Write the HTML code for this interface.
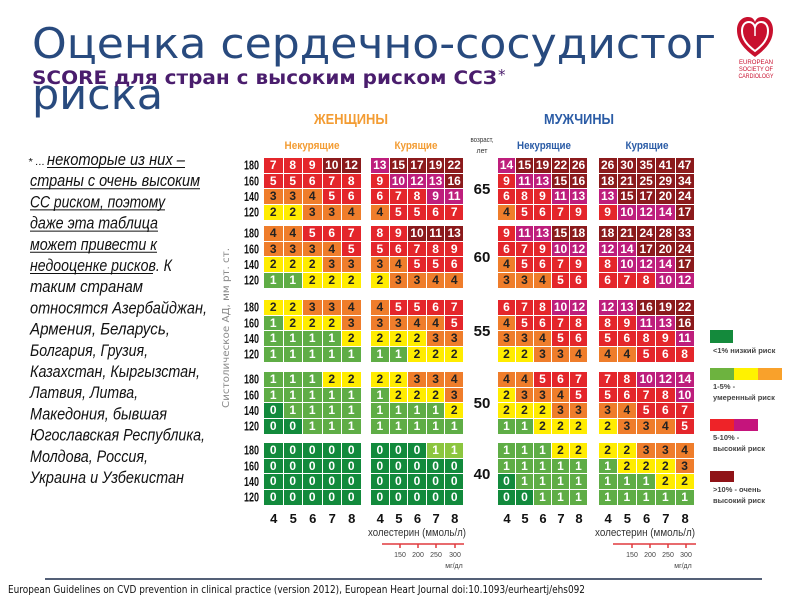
<!DOCTYPE html>
<html><head><meta charset="utf-8">
<style>
body{margin:0;background:#fff}
#w{position:relative;width:800px;height:600px;overflow:hidden;background:#fff}
svg{position:absolute;left:0;top:0}
.b{position:absolute;display:grid;grid-template-rows:repeat(4,14.7px);gap:1px}
.b i{font-style:normal;font-weight:bold;font-size:12px;font-family:"Liberation Sans Narrow","Liberation Sans",sans-serif;color:#fff;text-align:center;line-height:15px;display:block;overflow:hidden}
.b1{grid-template-columns:repeat(5,18.5px);left:264px}
.b2{grid-template-columns:repeat(5,17.6px);left:371px}
.b3{grid-template-columns:repeat(5,17px);left:498px}
.b4{grid-template-columns:repeat(5,18.25px);left:598.5px}
.t1{top:158px}.t2{top:226px}.t3{top:300px}.t4{top:372px}.t5{top:443px}
.D{background:#128a3c}.G{background:#5fad46}.L{background:#8cc63f}
.Y{background:#ffec00;color:#222!important}.O{background:#ef7d2b;color:#222!important}
.R{background:#e4262b}.M{background:#be1e7c}.K{background:#8b1a1c}
</style></head>
<body><div id="w">
<svg width="800" height="600" viewBox="0 0 800 600" xmlns="http://www.w3.org/2000/svg">
<!-- title -->
<text x="32" y="58" font-family="DejaVu Sans, sans-serif" font-size="42" fill="#284a7e" textLength="684" lengthAdjust="spacingAndGlyphs">Оценка сердечно-сосудистог</text>
<text x="32" y="109" font-family="DejaVu Sans, sans-serif" font-size="42" fill="#284a7e" textLength="131" lengthAdjust="spacingAndGlyphs">риска</text>
<text x="32" y="84" font-family="DejaVu Sans, sans-serif" font-weight="bold" font-size="19" fill="#4a1d6d" textLength="465" lengthAdjust="spacingAndGlyphs">SCORE для стран с высоким риском ССЗ</text>
<text x="498" y="80" font-family="DejaVu Sans, sans-serif" font-size="15" fill="#4a1d6d">*</text>
<!-- logo -->
<path d="M755,57 C744,49 737,41 737,30 C737,22 742,17 748,17 C752,17 754,19 755,22 C756,19 758,17 762,17 C768,17 773,22 773,30 C773,41 766,49 755,57 Z" fill="#c8102e"/>
<path d="M755,51 C747,45 742,39 742,31 C742,25 745,22 749,22 C752,22 754,24 755,27 C756,24 758,22 761,22 C765,22 768,25 768,31 C768,39 763,45 755,51 Z" fill="none" stroke="#fff" stroke-width="2"/>
<path d="M755,27 L755,36" stroke="#fff" stroke-width="1.5"/>
<g font-family="Liberation Sans, sans-serif" font-size="6.5" fill="#c8102e" text-anchor="middle">
<text x="756" y="64" textLength="34" lengthAdjust="spacingAndGlyphs">EUROPEAN</text>
<text x="756" y="71" textLength="34" lengthAdjust="spacingAndGlyphs">SOCIETY OF</text>
<text x="756" y="78" textLength="35" lengthAdjust="spacingAndGlyphs">CARDIOLOGY</text>
</g>
<!-- left paragraph -->
<g font-family="Liberation Sans Narrow, Liberation Sans, sans-serif" font-style="italic" font-size="16.5" fill="#111" lengthAdjust="spacingAndGlyphs">
<text x="28" y="165" font-size="10" textLength="17" lengthAdjust="spacingAndGlyphs">* ...</text>
<text x="47" y="165" textLength="138" lengthAdjust="spacingAndGlyphs">некоторые из них –</text>
<text x="30" y="186.2" textLength="170" lengthAdjust="spacingAndGlyphs">страны с очень высоким</text>
<text x="30" y="207.4" textLength="135" lengthAdjust="spacingAndGlyphs">СС риском, поэтому</text>
<text x="30" y="228.6" textLength="128" lengthAdjust="spacingAndGlyphs">даже эта таблица</text>
<text x="30" y="249.8" textLength="127" lengthAdjust="spacingAndGlyphs">может привести к</text>
<text x="30" y="271" textLength="142" lengthAdjust="spacingAndGlyphs">недооценке рисков. К</text>
<text x="30" y="292.2" textLength="113" lengthAdjust="spacingAndGlyphs">таким странам</text>
<text x="30" y="313.4" textLength="177" lengthAdjust="spacingAndGlyphs">относятся Азербайджан,</text>
<text x="30" y="334.6" textLength="140" lengthAdjust="spacingAndGlyphs">Армения, Беларусь,</text>
<text x="30" y="355.8" textLength="118" lengthAdjust="spacingAndGlyphs">Болгария, Грузия,</text>
<text x="30" y="377" textLength="170" lengthAdjust="spacingAndGlyphs">Казахстан, Кыргызстан,</text>
<text x="30" y="398.2" textLength="108" lengthAdjust="spacingAndGlyphs">Латвия, Литва,</text>
<text x="30" y="419.4" textLength="137" lengthAdjust="spacingAndGlyphs">Македония, бывшая</text>
<text x="30" y="440.6" textLength="175" lengthAdjust="spacingAndGlyphs">Югославская Республика,</text>
<text x="30" y="461.8" textLength="118" lengthAdjust="spacingAndGlyphs">Молдова, Россия,</text>
<text x="30" y="483" textLength="154" lengthAdjust="spacingAndGlyphs">Украина и Узбекистан</text>
</g>
<g stroke="#111" stroke-width="1">
<line x1="47" y1="167.5" x2="185" y2="167.5"/>
<line x1="30" y1="188.7" x2="200" y2="188.7"/>
<line x1="30" y1="209.9" x2="165" y2="209.9"/>
<line x1="30" y1="231.1" x2="158" y2="231.1"/>
<line x1="30" y1="252.3" x2="157" y2="252.3"/>
<line x1="30" y1="273.5" x2="153" y2="273.5"/>
</g>
<!-- headers -->
<g font-family="Liberation Sans Narrow, Liberation Sans, sans-serif" font-weight="bold" text-anchor="middle">
<text x="351" y="124" font-size="15" fill="#f39c33" textLength="74" lengthAdjust="spacingAndGlyphs">ЖЕНЩИНЫ</text>
<text x="579" y="124" font-size="15" fill="#2b5ca6" textLength="70" lengthAdjust="spacingAndGlyphs">МУЖЧИНЫ</text>
<text x="312" y="149" font-size="11" fill="#f39c33" textLength="55" lengthAdjust="spacingAndGlyphs">Некурящие</text>
<text x="416" y="149" font-size="11" fill="#f39c33" textLength="43" lengthAdjust="spacingAndGlyphs">Курящие</text>
<text x="544" y="149" font-size="11" fill="#2b5ca6" textLength="54" lengthAdjust="spacingAndGlyphs">Некурящие</text>
<text x="647" y="149" font-size="11" fill="#2b5ca6" textLength="43" lengthAdjust="spacingAndGlyphs">Курящие</text>
</g>
<g font-family="Liberation Sans Narrow, Liberation Sans, sans-serif" font-size="7" fill="#333" text-anchor="middle">
<text x="482" y="142" textLength="23" lengthAdjust="spacingAndGlyphs">возраст,</text>
<text x="482" y="153">лет</text>
</g>
<!-- SBP labels -->
<g font-family="Liberation Sans Narrow, Liberation Sans, sans-serif" font-weight="bold" font-size="12.5" fill="#111" text-anchor="end">
<text x="259" y="169.6" textLength="15" lengthAdjust="spacingAndGlyphs">180</text>
<text x="259" y="185.3" textLength="15" lengthAdjust="spacingAndGlyphs">160</text>
<text x="259" y="201" textLength="15" lengthAdjust="spacingAndGlyphs">140</text>
<text x="259" y="216.7" textLength="15" lengthAdjust="spacingAndGlyphs">120</text>
<text x="259" y="237.6" textLength="15" lengthAdjust="spacingAndGlyphs">180</text>
<text x="259" y="253.3" textLength="15" lengthAdjust="spacingAndGlyphs">160</text>
<text x="259" y="269" textLength="15" lengthAdjust="spacingAndGlyphs">140</text>
<text x="259" y="284.7" textLength="15" lengthAdjust="spacingAndGlyphs">120</text>
<text x="259" y="311.6" textLength="15" lengthAdjust="spacingAndGlyphs">180</text>
<text x="259" y="327.3" textLength="15" lengthAdjust="spacingAndGlyphs">160</text>
<text x="259" y="343" textLength="15" lengthAdjust="spacingAndGlyphs">140</text>
<text x="259" y="358.7" textLength="15" lengthAdjust="spacingAndGlyphs">120</text>
<text x="259" y="383.6" textLength="15" lengthAdjust="spacingAndGlyphs">180</text>
<text x="259" y="399.3" textLength="15" lengthAdjust="spacingAndGlyphs">160</text>
<text x="259" y="415" textLength="15" lengthAdjust="spacingAndGlyphs">140</text>
<text x="259" y="430.7" textLength="15" lengthAdjust="spacingAndGlyphs">120</text>
<text x="259" y="454.6" textLength="15" lengthAdjust="spacingAndGlyphs">180</text>
<text x="259" y="470.3" textLength="15" lengthAdjust="spacingAndGlyphs">160</text>
<text x="259" y="486" textLength="15" lengthAdjust="spacingAndGlyphs">140</text>
<text x="259" y="501.7" textLength="15" lengthAdjust="spacingAndGlyphs">120</text>
</g>
<!-- age labels -->
<g font-family="Liberation Sans Narrow, Liberation Sans, sans-serif" font-weight="bold" font-size="15" fill="#111" text-anchor="middle">
<text x="482" y="194">65</text>
<text x="482" y="262">60</text>
<text x="482" y="336">55</text>
<text x="482" y="408">50</text>
<text x="482" y="479">40</text>
</g>
<!-- axis label -->
<text transform="translate(229,328) rotate(-90)" text-anchor="middle" font-family="DejaVu Sans, sans-serif" font-size="10" fill="#8a8a8a" textLength="160" lengthAdjust="spacingAndGlyphs">Систолическое АД, мм рт. ст.</text>
<!-- cholesterol numbers -->
<g font-family="Liberation Sans Narrow, Liberation Sans, sans-serif" font-weight="bold" font-size="13" fill="#111" text-anchor="middle">
<text x="273.8" y="523">4</text><text x="293.3" y="523">5</text><text x="312.8" y="523">6</text><text x="332.3" y="523">7</text><text x="351.8" y="523">8</text>
<text x="380.3" y="523">4</text><text x="398.9" y="523">5</text><text x="417.5" y="523">6</text><text x="436.1" y="523">7</text><text x="454.7" y="523">8</text>
<text x="507" y="523">4</text><text x="525" y="523">5</text><text x="543" y="523">6</text><text x="561" y="523">7</text><text x="579" y="523">8</text>
<text x="608.1" y="523">4</text><text x="627.4" y="523">5</text><text x="646.6" y="523">6</text><text x="665.9" y="523">7</text><text x="685.1" y="523">8</text>
</g>
<g font-family="Liberation Sans Narrow, Liberation Sans, sans-serif" font-size="11" fill="#333" text-anchor="end">
<text x="466" y="536" textLength="98" lengthAdjust="spacingAndGlyphs">холестерин (ммоль/л)</text>
<text x="695" y="536" textLength="100" lengthAdjust="spacingAndGlyphs">холестерин (ммоль/л)</text>
</g>
<g stroke="#e03a3e" stroke-width="1.5">
<line x1="382" y1="544" x2="464" y2="544"/>
<line x1="400" y1="544" x2="400" y2="548"/><line x1="418" y1="544" x2="418" y2="548"/><line x1="436" y1="544" x2="436" y2="548"/><line x1="455" y1="544" x2="455" y2="548"/>
<line x1="613" y1="544" x2="696" y2="544"/>
<line x1="632" y1="544" x2="632" y2="548"/><line x1="650" y1="544" x2="650" y2="548"/><line x1="668" y1="544" x2="668" y2="548"/><line x1="686" y1="544" x2="686" y2="548"/>
</g>
<g font-family="Liberation Sans Narrow, Liberation Sans, sans-serif" font-size="7" fill="#444" text-anchor="middle">
<text x="400" y="557">150</text><text x="418" y="557">200</text><text x="436" y="557">250</text><text x="455" y="557">300</text>
<text x="454" y="568">мг/дл</text>
<text x="632" y="557">150</text><text x="650" y="557">200</text><text x="668" y="557">250</text><text x="686" y="557">300</text>
<text x="683" y="568">мг/дл</text>
</g>
<!-- legend -->
<rect x="710" y="330" width="23" height="13" fill="#148a3c"/>
<rect x="710" y="368" width="24" height="12" fill="#6db33f"/>
<rect x="734" y="368" width="24" height="12" fill="#fff200"/>
<rect x="758" y="368" width="24" height="12" fill="#f9a12b"/>
<rect x="710" y="419" width="24" height="12" fill="#ee2328"/>
<rect x="734" y="419" width="24" height="12" fill="#c5147c"/>
<rect x="710" y="471" width="24" height="11" fill="#8f1317"/>
<g font-family="Liberation Sans Narrow, Liberation Sans, sans-serif" font-weight="bold" font-size="7.5" fill="#444">
<text x="713" y="353">&lt;1%  низкий риск</text>
<text x="713" y="389">1-5%  -</text>
<text x="713" y="400">умеренный риск</text>
<text x="713" y="440">5-10%  -</text>
<text x="713" y="451">высокий риск</text>
<text x="713" y="492">&gt;10%  - очень</text>
<text x="713" y="503">высокий риск</text>
</g>
<!-- footer -->
<line x1="45" y1="579" x2="762" y2="579" stroke="#1c2b4a" stroke-width="1.5"/>
<text x="8" y="593" font-family="DejaVu Sans, sans-serif" font-size="10.5" fill="#111" textLength="577" lengthAdjust="spacingAndGlyphs">European Guidelines on CVD prevention in clinical practice (version 2012), European Heart Journal doi:10.1093/eurheartj/ehs092</text>
</svg>

<!-- Women non-smokers -->
<div class="b b1 t1"><i class="R">7</i><i class="R">8</i><i class="R">9</i><i class="K">10</i><i class="K">12</i><i class="R">5</i><i class="R">5</i><i class="R">6</i><i class="R">7</i><i class="R">8</i><i class="O">3</i><i class="O">3</i><i class="O">4</i><i class="R">5</i><i class="R">6</i><i class="Y">2</i><i class="Y">2</i><i class="O">3</i><i class="O">3</i><i class="O">4</i></div>
<div class="b b1 t2"><i class="O">4</i><i class="O">4</i><i class="R">5</i><i class="R">6</i><i class="R">7</i><i class="O">3</i><i class="O">3</i><i class="O">3</i><i class="O">4</i><i class="R">5</i><i class="Y">2</i><i class="Y">2</i><i class="Y">2</i><i class="O">3</i><i class="O">3</i><i class="G">1</i><i class="G">1</i><i class="Y">2</i><i class="Y">2</i><i class="Y">2</i></div>
<div class="b b1 t3"><i class="Y">2</i><i class="Y">2</i><i class="O">3</i><i class="O">3</i><i class="O">4</i><i class="G">1</i><i class="Y">2</i><i class="Y">2</i><i class="Y">2</i><i class="O">3</i><i class="G">1</i><i class="G">1</i><i class="G">1</i><i class="G">1</i><i class="Y">2</i><i class="G">1</i><i class="G">1</i><i class="G">1</i><i class="G">1</i><i class="G">1</i></div>
<div class="b b1 t4"><i class="G">1</i><i class="G">1</i><i class="G">1</i><i class="Y">2</i><i class="Y">2</i><i class="G">1</i><i class="G">1</i><i class="G">1</i><i class="G">1</i><i class="G">1</i><i class="D">0</i><i class="G">1</i><i class="G">1</i><i class="G">1</i><i class="G">1</i><i class="D">0</i><i class="D">0</i><i class="G">1</i><i class="G">1</i><i class="G">1</i></div>
<div class="b b1 t5"><i class="D">0</i><i class="D">0</i><i class="D">0</i><i class="D">0</i><i class="D">0</i><i class="D">0</i><i class="D">0</i><i class="D">0</i><i class="D">0</i><i class="D">0</i><i class="D">0</i><i class="D">0</i><i class="D">0</i><i class="D">0</i><i class="D">0</i><i class="D">0</i><i class="D">0</i><i class="D">0</i><i class="D">0</i><i class="D">0</i></div>

<!-- Women smokers -->
<div class="b b2 t1"><i class="M">13</i><i class="K">15</i><i class="K">17</i><i class="K">19</i><i class="K">22</i><i class="R">9</i><i class="M">10</i><i class="M">12</i><i class="M">13</i><i class="K">16</i><i class="R">6</i><i class="R">7</i><i class="R">8</i><i class="M">9</i><i class="M">11</i><i class="O">4</i><i class="R">5</i><i class="R">5</i><i class="R">6</i><i class="R">7</i></div>
<div class="b b2 t2"><i class="R">8</i><i class="R">9</i><i class="K">10</i><i class="K">11</i><i class="K">13</i><i class="R">5</i><i class="R">6</i><i class="R">7</i><i class="R">8</i><i class="R">9</i><i class="O">3</i><i class="O">4</i><i class="R">5</i><i class="R">5</i><i class="R">6</i><i class="Y">2</i><i class="O">3</i><i class="O">3</i><i class="O">4</i><i class="O">4</i></div>
<div class="b b2 t3"><i class="O">4</i><i class="R">5</i><i class="R">5</i><i class="R">6</i><i class="R">7</i><i class="O">3</i><i class="O">3</i><i class="O">4</i><i class="O">4</i><i class="R">5</i><i class="Y">2</i><i class="Y">2</i><i class="Y">2</i><i class="O">3</i><i class="O">3</i><i class="G">1</i><i class="G">1</i><i class="Y">2</i><i class="Y">2</i><i class="Y">2</i></div>
<div class="b b2 t4"><i class="Y">2</i><i class="Y">2</i><i class="O">3</i><i class="O">3</i><i class="O">4</i><i class="G">1</i><i class="Y">2</i><i class="Y">2</i><i class="Y">2</i><i class="O">3</i><i class="G">1</i><i class="G">1</i><i class="G">1</i><i class="G">1</i><i class="Y">2</i><i class="G">1</i><i class="G">1</i><i class="G">1</i><i class="G">1</i><i class="G">1</i></div>
<div class="b b2 t5"><i class="D">0</i><i class="D">0</i><i class="D">0</i><i class="L">1</i><i class="L">1</i><i class="D">0</i><i class="D">0</i><i class="D">0</i><i class="D">0</i><i class="D">0</i><i class="D">0</i><i class="D">0</i><i class="D">0</i><i class="D">0</i><i class="D">0</i><i class="D">0</i><i class="D">0</i><i class="D">0</i><i class="D">0</i><i class="D">0</i></div>

<!-- Men non-smokers -->
<div class="b b3 t1"><i class="M">14</i><i class="K">15</i><i class="K">19</i><i class="K">22</i><i class="K">26</i><i class="R">9</i><i class="M">11</i><i class="M">13</i><i class="K">15</i><i class="K">16</i><i class="R">6</i><i class="R">8</i><i class="R">9</i><i class="M">11</i><i class="M">13</i><i class="O">4</i><i class="R">5</i><i class="R">6</i><i class="R">7</i><i class="R">9</i></div>
<div class="b b3 t2"><i class="R">9</i><i class="M">11</i><i class="M">13</i><i class="K">15</i><i class="K">18</i><i class="R">6</i><i class="R">7</i><i class="R">9</i><i class="M">10</i><i class="M">12</i><i class="O">4</i><i class="R">5</i><i class="R">6</i><i class="R">7</i><i class="R">9</i><i class="O">3</i><i class="O">3</i><i class="O">4</i><i class="R">5</i><i class="R">6</i></div>
<div class="b b3 t3"><i class="R">6</i><i class="R">7</i><i class="R">8</i><i class="M">10</i><i class="M">12</i><i class="O">4</i><i class="R">5</i><i class="R">6</i><i class="R">7</i><i class="R">8</i><i class="O">3</i><i class="O">3</i><i class="O">4</i><i class="R">5</i><i class="R">6</i><i class="Y">2</i><i class="Y">2</i><i class="O">3</i><i class="O">3</i><i class="O">4</i></div>
<div class="b b3 t4"><i class="O">4</i><i class="O">4</i><i class="R">5</i><i class="R">6</i><i class="R">7</i><i class="Y">2</i><i class="O">3</i><i class="O">3</i><i class="O">4</i><i class="R">5</i><i class="Y">2</i><i class="Y">2</i><i class="Y">2</i><i class="O">3</i><i class="O">3</i><i class="G">1</i><i class="G">1</i><i class="Y">2</i><i class="Y">2</i><i class="Y">2</i></div>
<div class="b b3 t5"><i class="G">1</i><i class="G">1</i><i class="G">1</i><i class="Y">2</i><i class="Y">2</i><i class="G">1</i><i class="G">1</i><i class="G">1</i><i class="G">1</i><i class="G">1</i><i class="D">0</i><i class="G">1</i><i class="G">1</i><i class="G">1</i><i class="G">1</i><i class="D">0</i><i class="D">0</i><i class="G">1</i><i class="G">1</i><i class="G">1</i></div>

<!-- Men smokers -->
<div class="b b4 t1"><i class="K">26</i><i class="K">30</i><i class="K">35</i><i class="K">41</i><i class="K">47</i><i class="K">18</i><i class="K">21</i><i class="K">25</i><i class="K">29</i><i class="K">34</i><i class="M">13</i><i class="K">15</i><i class="K">17</i><i class="K">20</i><i class="K">24</i><i class="R">9</i><i class="M">10</i><i class="M">12</i><i class="M">14</i><i class="K">17</i></div>
<div class="b b4 t2"><i class="K">18</i><i class="K">21</i><i class="K">24</i><i class="K">28</i><i class="K">33</i><i class="M">12</i><i class="M">14</i><i class="K">17</i><i class="K">20</i><i class="K">24</i><i class="R">8</i><i class="M">10</i><i class="M">12</i><i class="M">14</i><i class="K">17</i><i class="R">6</i><i class="R">7</i><i class="R">8</i><i class="M">10</i><i class="M">12</i></div>
<div class="b b4 t3"><i class="M">12</i><i class="M">13</i><i class="K">16</i><i class="K">19</i><i class="K">22</i><i class="R">8</i><i class="R">9</i><i class="M">11</i><i class="M">13</i><i class="K">16</i><i class="R">5</i><i class="R">6</i><i class="R">8</i><i class="R">9</i><i class="M">11</i><i class="O">4</i><i class="O">4</i><i class="R">5</i><i class="R">6</i><i class="R">8</i></div>
<div class="b b4 t4"><i class="R">7</i><i class="R">8</i><i class="M">10</i><i class="M">12</i><i class="M">14</i><i class="R">5</i><i class="R">6</i><i class="R">7</i><i class="R">8</i><i class="M">10</i><i class="O">3</i><i class="O">4</i><i class="R">5</i><i class="R">6</i><i class="R">7</i><i class="Y">2</i><i class="O">3</i><i class="O">3</i><i class="O">4</i><i class="R">5</i></div>
<div class="b b4 t5"><i class="Y">2</i><i class="Y">2</i><i class="O">3</i><i class="O">3</i><i class="O">4</i><i class="G">1</i><i class="Y">2</i><i class="Y">2</i><i class="Y">2</i><i class="O">3</i><i class="G">1</i><i class="G">1</i><i class="G">1</i><i class="Y">2</i><i class="Y">2</i><i class="G">1</i><i class="G">1</i><i class="G">1</i><i class="G">1</i><i class="G">1</i></div>
</div></body></html>
